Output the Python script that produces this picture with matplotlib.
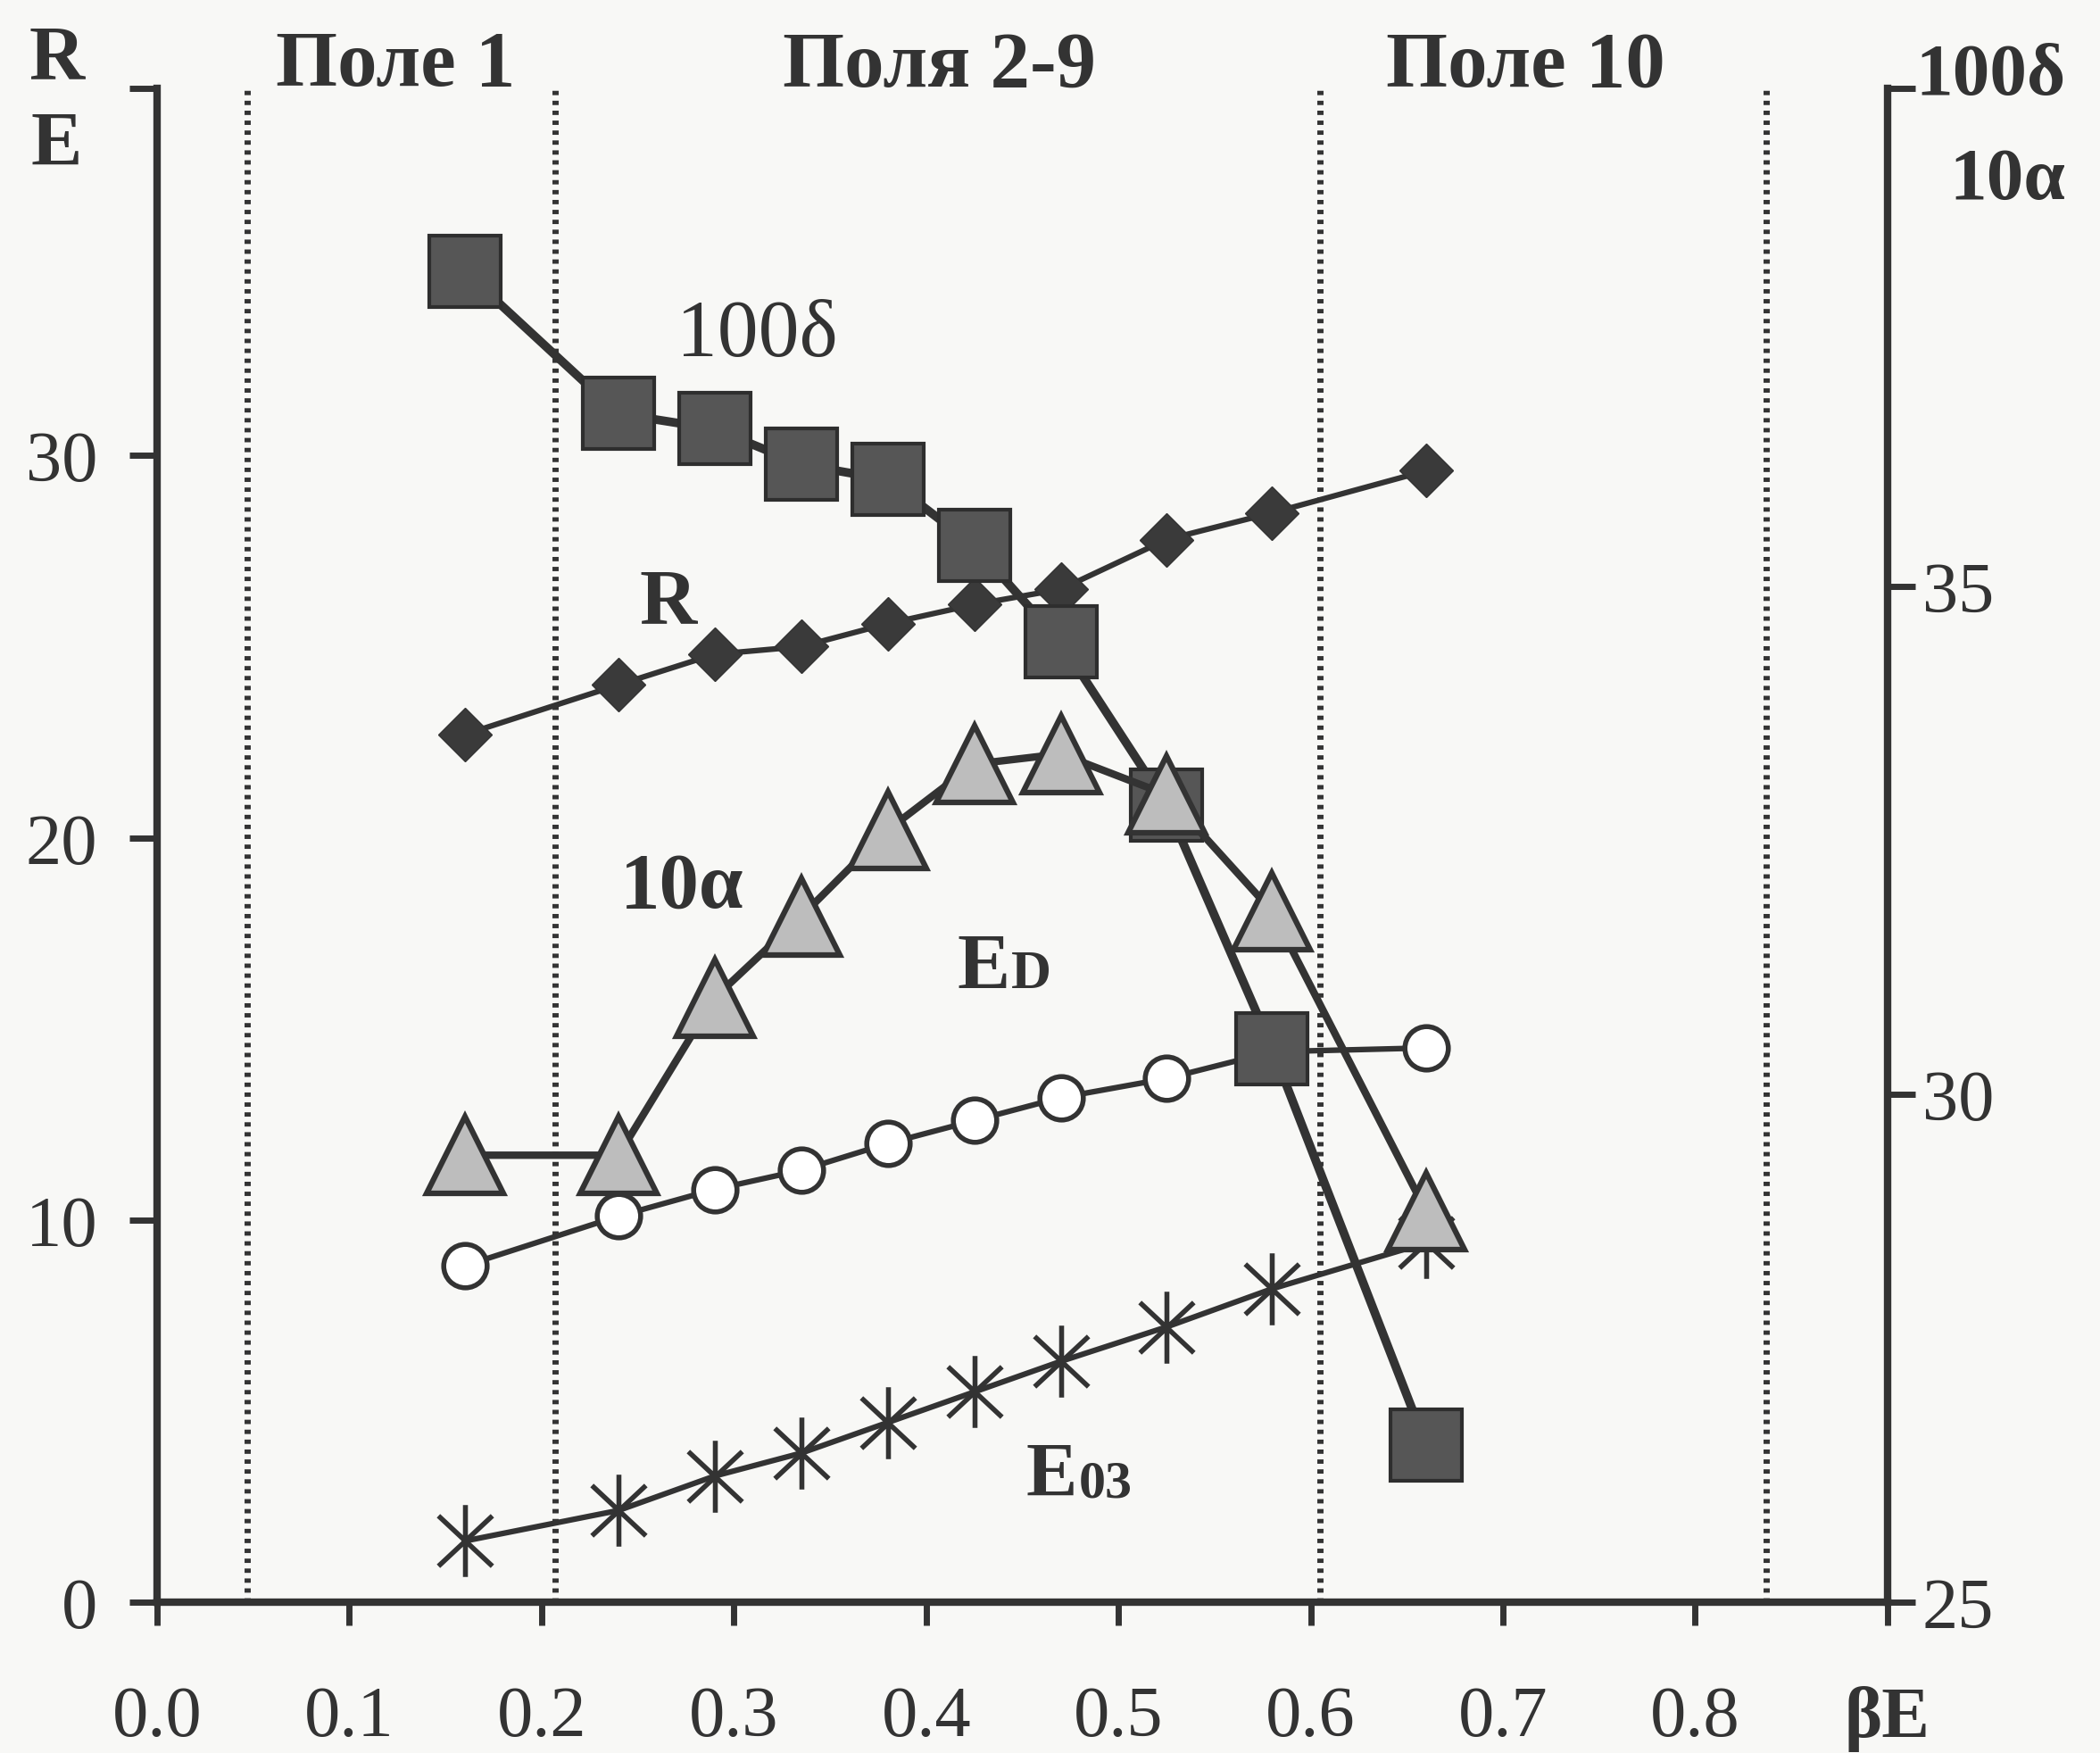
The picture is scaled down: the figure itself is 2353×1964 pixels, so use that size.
import matplotlib
matplotlib.use("Agg")
import matplotlib.pyplot as plt
from matplotlib.path import Path
from matplotlib import transforms

# ten points, one per field, along beta*E
beta = [0.16, 0.24, 0.29, 0.335, 0.38, 0.425, 0.47, 0.525, 0.58, 0.66]

# left axis (R, E)
R = [22.7, 24.0, 24.8, 25.0, 25.6, 26.1, 26.5, 27.8, 28.5, 29.6]
E_D = [8.8, 10.1, 10.8, 11.3, 12.0, 12.6, 13.2, 13.7, 14.4, 14.5]
E_o3 = [1.6, 2.4, 3.3, 3.9, 4.7, 5.5, 6.3, 7.2, 8.2, 9.4]

# right axis (100 delta, 10 alpha)
delta100 = [38.1, 36.7, 36.55, 36.2, 36.05, 35.4, 34.45, 32.85, 30.45, 26.55]
alpha10 = [29.4, 29.4, 30.95, 31.75, 32.6, 33.25, 33.35, 32.95, 31.8, 28.85]

field_bounds = [0.047, 0.207, 0.605, 0.837]
field_names = ["Поле 1", "Поля 2-9", "Поле 10"]
field_centers = [0.124, 0.407, 0.712]

xticks = [0.0, 0.1, 0.2, 0.3, 0.4, 0.5, 0.6, 0.7, 0.8, 0.9]
xticklabels = ["0.0", "0.1", "0.2", "0.3", "0.4", "0.5", "0.6", "0.7", "0.8", "βE"]
left_lim = (0, 39.6)
right_lim = (25, 39.9)
left_ticks = [0, 10, 20, 30]
right_ticks = [25, 30, 35]

INK = "#333333"
PAPER = "#f8f8f6"

plt.rcParams["font.family"] = ["Liberation Serif", "DejaVu Serif"]
plt.rcParams["text.color"] = INK

fig = plt.figure(figsize=(23.53, 19.65), dpi=100, facecolor=PAPER)
ax = fig.add_axes([0.0748, 0.086, 0.824, 0.863])
ax.set_facecolor(PAPER)
ax2 = ax.twinx()

ax.set_xlim(0, 0.9)
ax.set_ylim(*left_lim)
ax2.set_ylim(*right_lim)

for sp in ["top", "right"]:
    ax.spines[sp].set_visible(False)
for sp in ["top", "left", "bottom"]:
    ax2.spines[sp].set_visible(False)
for sp in [ax.spines["left"], ax.spines["bottom"], ax2.spines["right"]]:
    sp.set_linewidth(6)
    sp.set_color(INK)

ax.set_xticks(xticks)
ax.set_xticklabels(xticklabels)
ax.set_yticks(left_ticks + [left_lim[1]])
ax.set_yticklabels([str(t) for t in left_ticks] + [""])
ax2.set_yticks(right_ticks + [right_lim[1]])
ax2.set_yticklabels([str(t) for t in right_ticks] + [""])

ax.tick_params(axis="x", direction="out", length=19, width=5, pad=48,
               labelsize=58, colors=INK)
ax.tick_params(axis="y", direction="out", length=22, width=5, pad=26,
               labelsize=58, colors=INK)
ax2.tick_params(axis="y", direction="out", length=22, width=5, pad=6,
                labelsize=58, colors=INK)
ax.get_xticklabels()[-1].set_fontweight("bold")

# field boundaries
for b in field_bounds:
    ax.axvline(b, color=INK, lw=5, linestyle=(0, (0.7, 0.9)), zorder=1)

trans = transforms.blended_transform_factory(ax.transData, ax.transAxes)
for name, xc in zip(field_names, field_centers):
    ax.text(xc, 1.015, name, transform=trans, ha="center", va="center",
            fontsize=64, fontweight="bold", clip_on=False)

# axis captions
ax.text(-0.058, 1.019, "R", transform=ax.transAxes, ha="center", va="center",
        fontsize=62, fontweight="bold")
ax.text(-0.058, 0.962, "E", transform=ax.transAxes, ha="center", va="center",
        fontsize=62, fontweight="bold")
ax.text(1.016, 1.008, "100δ", transform=ax.transAxes, ha="left", va="center",
        fontsize=60, fontweight="bold")
ax.text(1.036, 0.939, "10α", transform=ax.transAxes, ha="left", va="center",
        fontsize=60, fontweight="bold")

# asterisk marker
aster = Path([(0, -1), (0, 1), (-0.75, -0.7), (0.75, 0.7), (-0.75, 0.7), (0.75, -0.7)],
             [Path.MOVETO, Path.LINETO] * 3)

ax.plot(beta, R, color=INK, lw=4.5, marker="D", markersize=31,
        markerfacecolor="#3a3a3a", markeredgecolor=INK, zorder=3)
ax.plot(beta, E_D, color=INK, lw=4.5, marker="o", markersize=35,
        markerfacecolor="white", markeredgecolor=INK, markeredgewidth=4, zorder=3)
ax.plot(beta, E_o3, color=INK, lw=4.5, marker=aster, markersize=58,
        markerfacecolor="none", markeredgecolor=INK, markeredgewidth=4, zorder=3)

ax2.plot(beta, delta100, color=INK, lw=7, marker="s", markersize=57,
         markerfacecolor="#565656", markeredgecolor="#2e2e2e", markeredgewidth=3,
         zorder=3)
ax2.plot(beta, alpha10, color=INK, lw=6, marker="^", markersize=62,
         markerfacecolor="#bdbdbd", markeredgecolor=INK, markeredgewidth=4.5,
         zorder=4)

# curve labels
ax.text(0.312, 33.15, "100δ", ha="center", va="center", fontsize=66)
ax.text(0.266, 26.15, "R", ha="center", va="center", fontsize=64, fontweight="bold")
ax.text(0.273, 18.7, "10α", ha="center", va="center", fontsize=64, fontweight="bold")


def e_label(x, y, sub, size):
    t = ax.text(x, y, "E", ha="left", va="baseline", fontsize=size, fontweight="bold")
    ax.annotate(sub, xy=(1, 0), xycoords=t, xytext=(1, 0.21 * size),
                textcoords="offset points", ha="left", va="baseline",
                fontsize=size * 0.7, fontweight="bold")


e_label(0.416, 16.1, "D", 64)
e_label(0.452, 2.8, "03", 62)

fig.savefig("out.png", dpi=100, facecolor=PAPER)
